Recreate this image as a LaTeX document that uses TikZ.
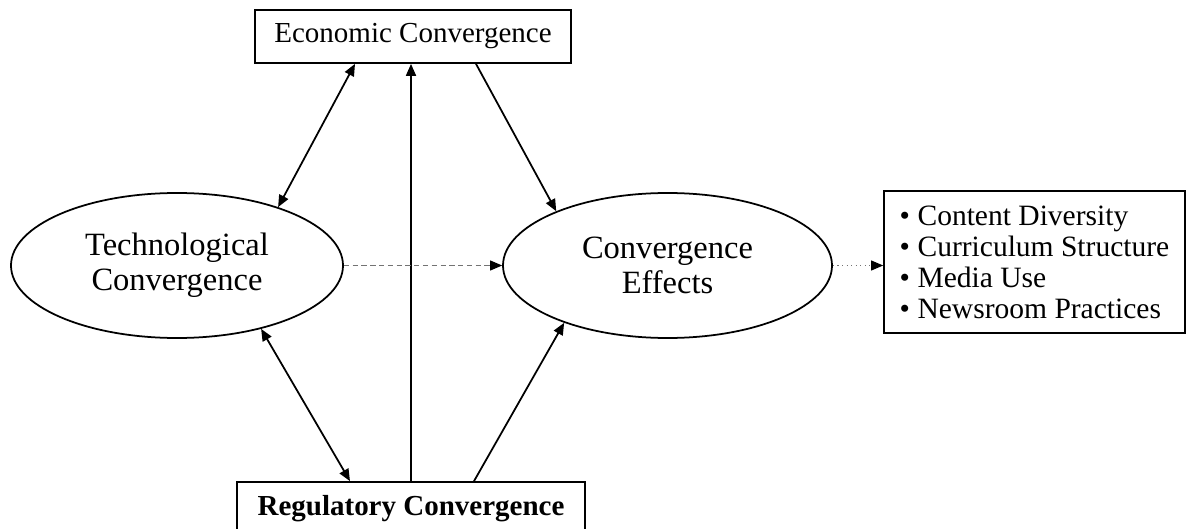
\documentclass[tikz,border=0pt]{standalone}
\usepackage{fontspec}
\setmainfont{Liberation Serif}
\usetikzlibrary{shapes.geometric,positioning,arrows.meta}

\begin{document}
\begin{tikzpicture}[node distance=2cm,on grid,auto,line width=1pt,
    factor/.style={ellipse,draw,inner sep=0pt,minimum width=6.64cm,minimum height=2.9cm,
      align=center,font=\fontsize{18.5}{20}\selectfont},
    driver/.style={rectangle,draw,minimum height=1.06cm,font=\fontsize{16.5}{18}\selectfont},
    link/.style={-{Triangle[length=2.4mm,width=2mm,color=black,fill=black]}},
    twoway/.style={{Triangle[length=2.4mm,width=2mm]}-{Triangle[length=2.4mm,width=2mm]}}]
    \useasboundingbox (0,0) rectangle (23.76,10.56);

    \node[factor] (tech) at (3.54,5.25) {Technological\\Convergence};
    \node[factor,minimum width=6.58cm] (effects) [right=9.81cm of tech] {Convergence\\Effects};
    \node[driver,minimum width=6.32cm] (economic) [above right=4.58cm and 4.72cm of tech] {Economic Convergence};
    \node[driver,minimum width=6.96cm] (regulatory) [below right=4.86cm and 4.68cm of tech] {\textbf{Regulatory Convergence}};
    \node[draw,minimum width=6.02cm,minimum height=2.84cm,align=left,
      font=\fontsize{16.8}{17.6}\selectfont] (outcomes) [above right=0.07cm and 7.34cm of effects]
      {•\hspace{0.15cm}Content Diversity\\
       •\hspace{0.15cm}Curriculum Structure\\
       •\hspace{0.15cm}Media Use\\
       •\hspace{0.15cm}Newsroom Practices};

    \path[twoway] (tech.30) edge ([xshift=-1.16cm]economic.south);
    \path[link] (regulatory.north) edge (regulatory.north |- economic.south);
    \path[link] ([xshift=1.26cm]economic.south) edge (effects.154);
    \path[twoway] (tech.-37) edge ([xshift=-1.22cm]regulatory.north);
    \path[link] ([xshift=1.26cm]regulatory.north) edge (effects.209);
    \path[link,black!55,dash pattern=on 3pt off 2pt,line width=0.6pt] (tech) edge (effects);
    \path[link,black!55,dotted,line width=0.6pt] (effects.east) edge (effects.east -| outcomes.west);
  \end{tikzpicture}
\end{document}
